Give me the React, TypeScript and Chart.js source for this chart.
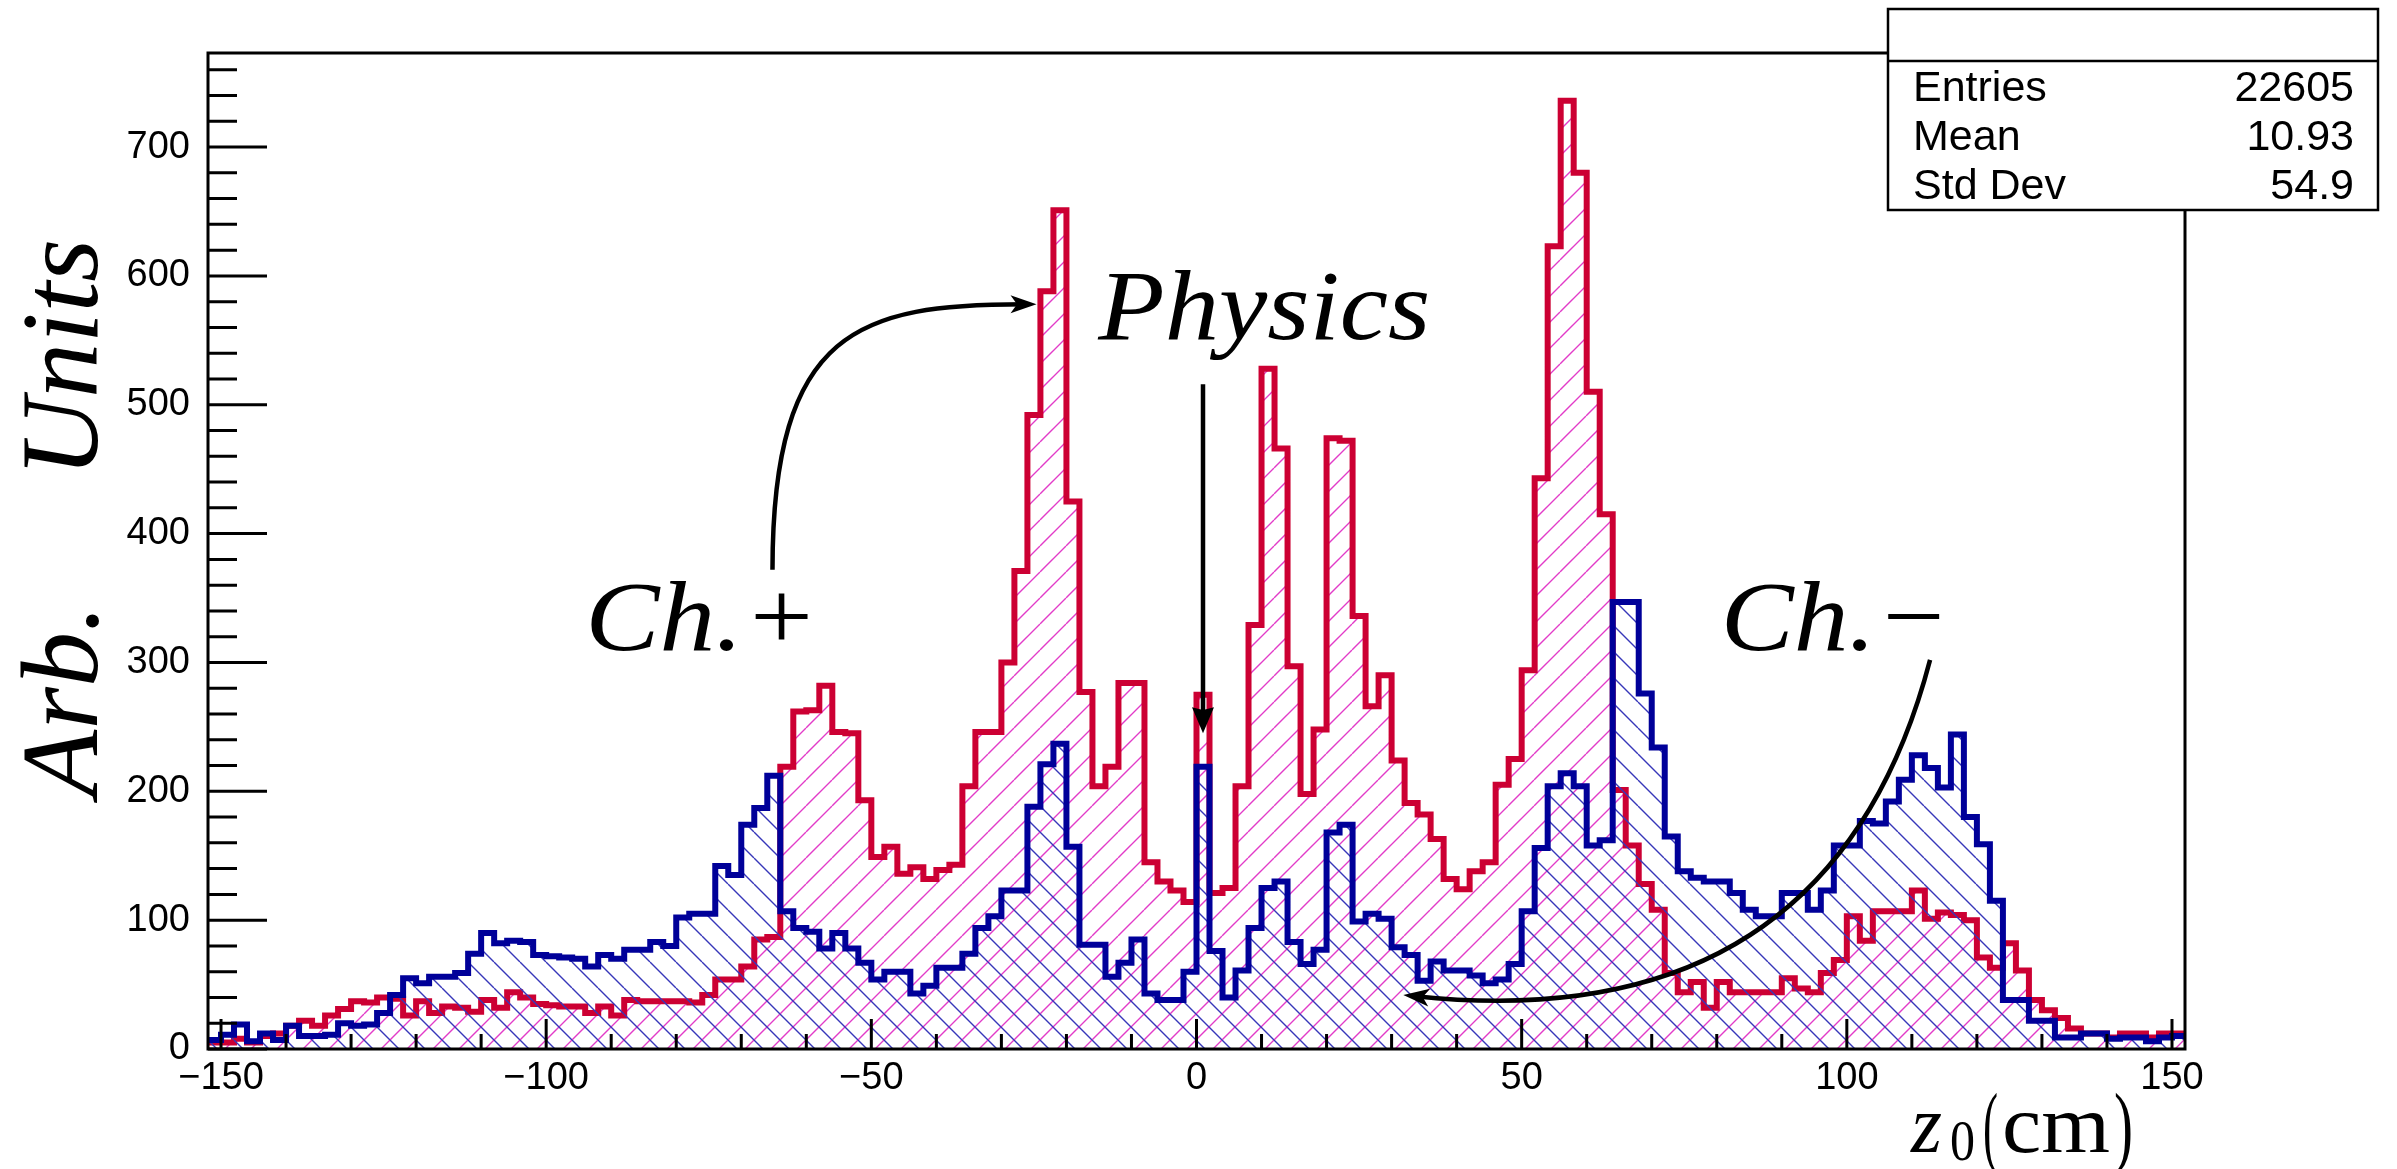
import React, { useEffect, useRef } from 'react';
import { Chart, registerables } from 'chart.js';

Chart.register(...registerables);

const W = 2397;
const H = 1169;

// z0 binning: 152 bins of 2 cm covering -152 .. 152 cm
const BIN_LOW = -152;
const BIN_WIDTH = 2;
const X_MIN = -152;
const X_MAX = 152;
const Y_MIN = 0;
const Y_MAX = 773;

const X_TICKS = [-150, -100, -50, 0, 50, 100, 150];
const Y_TICKS = [0, 100, 200, 300, 400, 500, 600, 700];
const X_MINOR_STEP = 10;
const Y_MINOR_STEP = 20;

// Ch.+ tracks per bin (red)
const chargePlus = [
  5, 5, 8, 5, 10, 12, 18, 22, 18, 26, 31, 37, 36, 40, 39, 26, 37, 28, 33, 32, 29, 38, 32, 44, 40, 35,
  34, 33, 33, 28, 33, 26, 38, 37, 37, 37, 37, 36, 42, 54, 54, 64, 85, 87, 219, 262, 263, 282, 246, 245, 193, 149,
  157, 136, 141, 132, 139, 143, 204, 246, 246, 300, 371, 492, 588, 651, 425, 277, 204, 219, 284, 284, 145, 130, 123, 114, 275,
  121, 125, 204, 329, 528, 466, 297, 198, 248, 474, 472, 336, 266, 290, 224, 191, 182, 163, 132, 124, 138, 145, 205, 225, 294, 443,
  623, 736, 680, 510, 415, 201, 158, 128, 108, 59, 44, 52, 32, 52, 44, 44, 44, 44, 55, 47, 44, 59, 69, 103, 84,
  107, 107, 107, 123, 101, 106, 104, 100, 71, 63, 82, 61, 38, 30, 24, 16, 12, 12, 9, 12, 12, 9, 12, 12,
];

// Ch.− tracks per bin (blue)
const chargeMinus = [
  7, 11, 19, 6, 12, 7, 18, 10, 10, 11, 20, 18, 19, 28, 42, 55, 51, 56, 56, 59, 74, 90, 82, 84, 83, 73,
  72, 71, 70, 64, 73, 70, 77, 77, 83, 80, 102, 105, 105, 142, 135, 174, 187, 212, 107, 94, 91, 78, 90, 78, 67, 54,
  60, 60, 43, 49, 63, 63, 74, 94, 103, 123, 123, 188, 221, 237, 157, 81, 81, 56, 67, 85, 43, 38, 38, 60, 219,
  76, 40, 61, 94, 125, 130, 83, 66, 77, 168, 174, 99, 105, 101, 79, 73, 53, 68, 61, 61, 57, 51, 54, 66, 107, 156,
  204, 214, 204, 158, 162, 347, 347, 276, 234, 165, 138, 133, 130, 130, 121, 108, 103, 103, 121, 121, 108, 123, 158, 158, 177,
  175, 192, 209, 228, 218, 203, 244, 180, 159, 115, 38, 38, 22, 22, 9, 9, 12, 12, 8, 9, 9, 6, 9, 10,
];

const STAT_LABELS = ['Entries', 'Mean', 'Std Dev'];
const STAT_VALUES = ['22605', '10.93', '54.9'];

// Annotation anchors in data units (cm, counts)
const NOTES = [
  { text: 'Physics', cm: -15.1, value: 551, size: 100, width: 332 },
  { text: 'Ch.+', cm: -94, value: 310, size: 100, width: 233 },
  { text: 'Ch.\u2212', cm: 80.6, value: 310, size: 100, width: 229 },
];
const ARROW_PLUS = { from: [-65.2, 372], c1: [-65.2, 559], c2: [-51.7, 578], to: [-24.6, 578] };
const ARROW_PHYSICS = { from: [1, 516], to: [1, 245] };
const ARROW_MINUS = { from: [112.8, 302], ctrl: [97.5, 7], to: [31.8, 42] };

const RED = '#cc0033';
const BLUE = '#000099';
const RED_HATCH = 'rgb(226, 60, 200)';
const BLUE_HATCH = 'rgb(55, 55, 185)';
const SANS = '"Liberation Sans", Arial, sans-serif';
const SERIF = '"Liberation Serif", "Times New Roman", serif';

function stepPoints(counts: number[]) {
  const pts = counts.map((c, i) => ({ x: BIN_LOW + i * BIN_WIDTH, y: c }));
  pts.push({ x: BIN_LOW + counts.length * BIN_WIDTH, y: counts[counts.length - 1] });
  return pts;
}

function makeHatch(color: string, forward: boolean, spacing = 26, width = 1.4): CanvasPattern {
  const c = document.createElement('canvas');
  c.width = spacing;
  c.height = spacing;
  const g = c.getContext('2d')!;
  g.strokeStyle = color;
  g.lineWidth = width;
  g.beginPath();
  for (let k = -1; k <= 1; k++) {
    if (forward) {
      g.moveTo(k * spacing, spacing);
      g.lineTo(k * spacing + spacing, 0);
    } else {
      g.moveTo(k * spacing, 0);
      g.lineTo(k * spacing + spacing, spacing);
    }
  }
  g.stroke();
  return g.createPattern(c, 'repeat')!;
}

function fitText(ctx: CanvasRenderingContext2D, text: string, font: string, x: number, y: number, width: number) {
  ctx.save();
  ctx.font = font;
  ctx.textAlign = 'left';
  ctx.textBaseline = 'alphabetic';
  const w = ctx.measureText(text).width;
  ctx.translate(x, y);
  ctx.scale(width / w, 1);
  ctx.fillText(text, 0, 0);
  ctx.restore();
}

function arrowHead(ctx: CanvasRenderingContext2D, x: number, y: number, angle: number, len: number, half: number, notch: number) {
  ctx.save();
  ctx.translate(x, y);
  ctx.rotate(angle);
  ctx.beginPath();
  ctx.moveTo(0, 0);
  ctx.lineTo(-len, -half);
  ctx.lineTo(-len * notch, 0);
  ctx.lineTo(-len, half);
  ctx.closePath();
  ctx.fill();
  ctx.restore();
}

const frameAndTicks = {
  id: 'frameAndTicks',
  afterDatasetsDraw(chart: any) {
    const { ctx, chartArea: a, scales } = chart;
    const x = scales.x;
    const y = scales.y;
    ctx.save();
    ctx.strokeStyle = '#000';
    ctx.lineWidth = 3;
    ctx.strokeRect(a.left, a.top, a.right - a.left, a.bottom - a.top);
    ctx.beginPath();
    for (let v = Y_MIN; v <= Y_MAX; v += Y_MINOR_STEP) {
      const len = Y_TICKS.includes(v) ? 59 : 29;
      const p = y.getPixelForValue(v);
      ctx.moveTo(a.left, p);
      ctx.lineTo(a.left + len, p);
    }
    for (let c = X_TICKS[0]; c <= X_TICKS[X_TICKS.length - 1]; c += X_MINOR_STEP) {
      const len = X_TICKS.includes(c) ? 30 : 15;
      const p = x.getPixelForValue(c);
      ctx.moveTo(p, a.bottom);
      ctx.lineTo(p, a.bottom - len);
    }
    ctx.stroke();
    ctx.restore();
  },
  afterDraw(chart: any) {
    const { ctx, scales } = chart;
    const X = (c: number) => scales.x.getPixelForValue(c);
    const Y = (v: number) => scales.y.getPixelForValue(v);
    ctx.save();
    ctx.fillStyle = '#000';
    ctx.strokeStyle = '#000';

    // annotation labels
    for (const n of NOTES) {
      fitText(ctx, n.text, `italic ${n.size}px ${SERIF}`, X(n.cm), Y(n.value), n.width);
    }

    // arrows
    ctx.lineWidth = 4.5;
    ctx.lineCap = 'butt';
    {
      const p0 = [X(ARROW_PLUS.from[0]), Y(ARROW_PLUS.from[1])];
      const c1 = [X(ARROW_PLUS.c1[0]), Y(ARROW_PLUS.c1[1])];
      const c2 = [X(ARROW_PLUS.c2[0]), Y(ARROW_PLUS.c2[1])];
      const p3 = [X(ARROW_PLUS.to[0]), Y(ARROW_PLUS.to[1])];
      const ang = Math.atan2(p3[1] - c2[1], p3[0] - c2[0]);
      const e = [p3[0] - 12 * Math.cos(ang), p3[1] - 12 * Math.sin(ang)];
      ctx.beginPath();
      ctx.moveTo(p0[0], p0[1]);
      ctx.bezierCurveTo(c1[0], c1[1], c2[0], c2[1], e[0], e[1]);
      ctx.stroke();
      arrowHead(ctx, p3[0], p3[1], ang, 26, 9, 0.75);
    }
    {
      const p0 = [X(ARROW_PHYSICS.from[0]), Y(ARROW_PHYSICS.from[1])];
      const p1 = [X(ARROW_PHYSICS.to[0]), Y(ARROW_PHYSICS.to[1])];
      ctx.beginPath();
      ctx.moveTo(p0[0], p0[1]);
      ctx.lineTo(p1[0], p1[1] - 14);
      ctx.stroke();
      arrowHead(ctx, p1[0], p1[1], Math.PI / 2, 26, 11, 0.9);
    }
    {
      const p0 = [X(ARROW_MINUS.from[0]), Y(ARROW_MINUS.from[1])];
      const c = [X(ARROW_MINUS.ctrl[0]), Y(ARROW_MINUS.ctrl[1])];
      const p2 = [X(ARROW_MINUS.to[0]), Y(ARROW_MINUS.to[1])];
      const ang = Math.atan2(p2[1] - c[1], p2[0] - c[0]);
      const e = [p2[0] - 12 * Math.cos(ang), p2[1] - 12 * Math.sin(ang)];
      ctx.beginPath();
      ctx.moveTo(p0[0], p0[1]);
      ctx.quadraticCurveTo(c[0], c[1], e[0], e[1]);
      ctx.stroke();
      arrowHead(ctx, p2[0], p2[1], ang, 26, 9, 0.75);
    }

    // y axis title
    ctx.font = `italic 110px ${SERIF}`;
    ctx.textBaseline = 'alphabetic';
    ctx.save();
    ctx.translate(97, 797);
    ctx.rotate(-Math.PI / 2);
    ctx.textAlign = 'left';
    ctx.fillText('Arb.', 0, 0);
    ctx.restore();
    ctx.save();
    ctx.translate(97, 239);
    ctx.rotate(-Math.PI / 2);
    ctx.textAlign = 'right';
    ctx.fillText('Units', 0, 0);
    ctx.restore();

    // x axis title: z0(cm)
    fitText(ctx, 'z', `italic 82px ${SERIF}`, 1911, 1152, 31);
    fitText(ctx, '0', `58px ${SERIF}`, 1950, 1160, 25);
    fitText(ctx, '(', `92px ${SERIF}`, 1983, 1156, 15);
    fitText(ctx, 'cm', `82px ${SERIF}`, 2002, 1152, 108);
    fitText(ctx, ')', `92px ${SERIF}`, 2114, 1156, 19);

    // statistics box
    const bx = 1888, by = 9, bw = 490, bh = 201, th = 52;
    ctx.fillStyle = '#fff';
    ctx.fillRect(bx, by, bw, bh);
    ctx.lineWidth = 2.5;
    ctx.strokeRect(bx, by, bw, bh);
    ctx.beginPath();
    ctx.moveTo(bx, by + th);
    ctx.lineTo(bx + bw, by + th);
    ctx.stroke();
    ctx.fillStyle = '#000';
    ctx.font = `43px ${SANS}`;
    STAT_LABELS.forEach((lab, i) => {
      const base = by + 92 + i * 49;
      ctx.textAlign = 'left';
      ctx.fillText(lab, bx + 25, base);
      ctx.textAlign = 'right';
      ctx.fillText(STAT_VALUES[i], bx + bw - 24, base);
    });
    ctx.restore();
  },
};

export default function App() {
  const ref = useRef<HTMLCanvasElement>(null);

  useEffect(() => {
    const canvas = ref.current;
    if (!canvas) return;
    const tickFont = { family: SANS, size: 38 };
    const chart = new Chart(canvas, {
      type: 'line',
      data: {
        datasets: [
          {
            label: 'Ch.\u2212',
            data: stepPoints(chargeMinus),
            stepped: 'before',
            borderColor: BLUE,
            borderWidth: 6,
            borderJoinStyle: 'miter',
            backgroundColor: makeHatch(BLUE_HATCH, false),
            fill: 'origin',
            pointRadius: 0,
            order: 0,
          },
          {
            label: 'Ch.+',
            data: stepPoints(chargePlus),
            stepped: 'before',
            borderColor: RED,
            borderWidth: 6,
            borderJoinStyle: 'miter',
            backgroundColor: makeHatch(RED_HATCH, true),
            fill: 'origin',
            pointRadius: 0,
            order: 1,
          },
        ],
      } as any,
      options: {
        responsive: false,
        animation: false,
        devicePixelRatio: 1,
        layout: { padding: { left: 0, top: 53, right: W - 2185, bottom: 0 } },
        plugins: {
          legend: { display: false },
          tooltip: { enabled: false },
        },
        scales: {
          x: {
            type: 'linear',
            min: X_MIN,
            max: X_MAX,
            grid: { display: false, drawTicks: false },
            border: { display: false },
            ticks: {
              color: '#000',
              font: tickFont,
              padding: 7,
              maxRotation: 0,
              autoSkip: false,
              callback: (v: any) => (Number(v) < 0 ? '\u2212' + Math.abs(Number(v)) : String(v)),
            },
            afterBuildTicks: (s: any) => {
              s.ticks = X_TICKS.map((v) => ({ value: v }));
            },
            afterFit: (s: any) => {
              s.height = H - 1049;
            },
          },
          y: {
            type: 'linear',
            min: Y_MIN,
            max: Y_MAX,
            grid: { display: false, drawTicks: false },
            border: { display: false },
            ticks: {
              color: '#000',
              font: tickFont,
              padding: 18,
              autoSkip: false,
            },
            afterBuildTicks: (s: any) => {
              s.ticks = Y_TICKS.map((v) => ({ value: v }));
            },
            afterFit: (s: any) => {
              s.width = 208;
            },
          },
        },
      } as any,
      plugins: [frameAndTicks],
    });
    return () => chart.destroy();
  }, []);

  return (
    <div style={{ position: 'fixed', left: 0, top: 0, width: W, height: H, background: '#fff' }}>
      <canvas ref={ref} width={W} height={H} style={{ display: 'block', width: W, height: H }} />
    </div>
  );
}
